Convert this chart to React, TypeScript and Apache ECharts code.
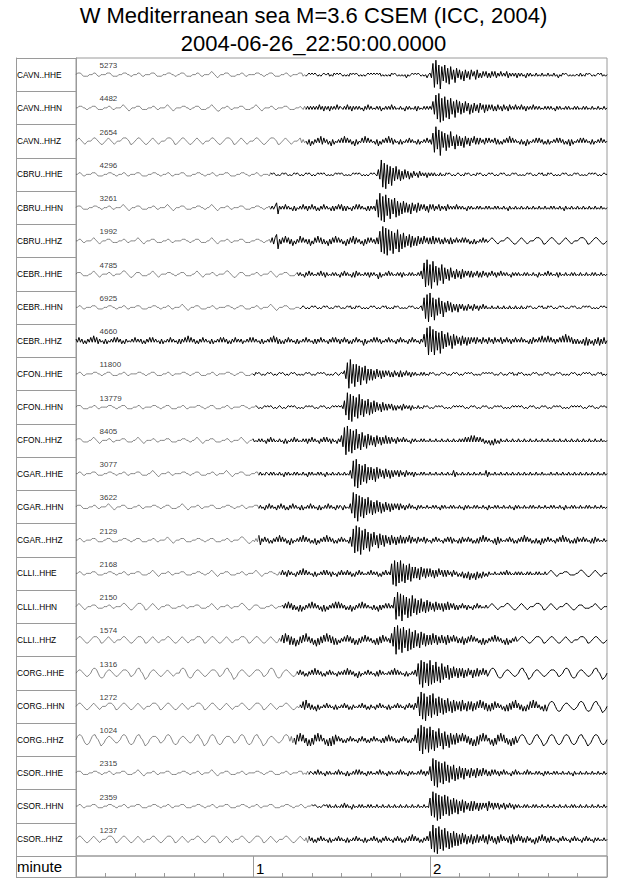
import React, { useEffect, useRef } from "react";
import * as echarts from "echarts";

// station / component of every trace, top to bottom
const stations = [
  "CAVN..HHE", "CAVN..HHN", "CAVN..HHZ",
  "CBRU..HHE", "CBRU..HHN", "CBRU..HHZ",
  "CEBR..HHE", "CEBR..HHN", "CEBR..HHZ",
  "CFON..HHE", "CFON..HHN", "CFON..HHZ",
  "CGAR..HHE", "CGAR..HHN", "CGAR..HHZ",
  "CLLI..HHE", "CLLI..HHN", "CLLI..HHZ",
  "CORG..HHE", "CORG..HHN", "CORG..HHZ",
  "CSOR..HHE", "CSOR..HHN", "CSOR..HHZ",
];

// peak counts printed over each trace
const peakCounts = [
  5273, 4482, 2654, 4296, 3261, 1992, 4785, 6925, 4660, 11800, 13779, 8405,
  3077, 3622, 2129, 2168, 2150, 1574, 1316, 1272, 1024, 2315, 2359, 1237,
];

// seconds after 22:50:00 where the dense (black) record starts
const onsetSeconds = [
  78, 78, 78, 66, 66, 66, 75, 76, 0, 60, 61, 60,
  62, 62, 62, 69.5, 70, 69.5, 75, 76, 74, 79, 80, 79,
];

// time axis: minutes
const minuteLabels = ["", "1", "2", ""];

const titleLines = ["W Mediterranean sea M=3.6 CSEM (ICC, 2004)", "2004-06-26_22:50:00.0000"];

// samples every 0.5 s: digits = up, letters a..i = down 1..9
const traceSamples = [
  `01110aaaa0 00110aa000 01110aaaa0 0011100aa0 00110aa000 01110aaaa0 0011100aa0 01110aaaa0 00110aa000 01210aba00 01110aaaa0 00110aa000
   0011100aa0 01110aaaa0 00110aa000 0111a0a010 1010a0a010 01a0a10101 0a0a0a1010 10a0a0a010 1010101a0a 0a0a1010a0 a0a0b0a010 1010a0a0b0
   1b7h9f6i5d 6e4f5c3e4b 3c2d3b2c3a 2c3b1b2a2b 1b2a2b1a2a 1a2b1a1a1b 1a1a0b1a1a 0a1a0a1a0a 1a0a1a0b0a 1010a0a0a0 0a1a0a1010 a0a0101a0a 0`,
  `0011100aa0 01110aaaa0 00110aa000 01210aba00 01110aaaa0 00110aa000 01210aba00 0011100aa0 01110aaaa0 01210abba0 00110aa000 01110aaaa0
   01210aba00 00110aa000 01110aaaa0 0010a1a1a1 a1a1a2a1b1 a1b1a1a2a1 0a1a2a1b1a 1a1a0b1a2a 1a0a1a1b0a 1a1a2a1a0a 1a0b1a1a0a 1b1a0a1a1a
   1a4d8g9i6h 7f5g6d4f5c 4d3c4b3d2c 3b2c3a2c2b 2a2b1b2a1b 2a1b2a1a2a 1a2a1b1a1a 2a1a1a0a1a 1a1a0b1a1a 0a1a1a0a1a 1a0a1a1a0a 1a0a1a0a1a 0`,
  `01210aba00 012210abba 01210aba00 0122210bba 012210abba 01210aba00 0122210bba 012210abba 01210aba00 012210abba 0122210bba 01210aba00
   012210abba 0122210bba 01210aba00 012a1a0b1c 0b1a2a3b2a 1b0c1b0a1a 2a3a2a1b0c 1b0a2a3a2a 1a0b1c0b1a 2a3a2b1a0b 1b0a1a2a1a 0b1b0a1a2a
   1b5g9e7i6d 5f4d6c3e4c 3c2d3b2c2a 3b2b2a1b2a 2a1a2b1b0b 1a2a3a2a1a 0b1b0c1b0a 1a2a2a1b0b 1b0a1a2a2a 1b0b1c1b0a 1a2a2a1a0b 1b0a1a2a1a 0`,
  `00110aa000 01110aaaa0 0011100aa0 00110aa000 01110aaaa0 0011100aa0 00110aa000 01110aaaa0 0011100aa0 00110aa000 01110aaaa0 0011100aa0
   00110aa000 0a1010a0a0 1010a0a010 10a0a01010 a0a0101010 a0a0a01010 10a0a0a010 1010a0a0a0 1010a3c9h7 i6f5g4d5c3 d2c3b2c1b2 a1b2a1a1b1
   a1a1a0a1a0 a1010a0a01 0a0a1010a0 0a1010a0a0 1010a0a010 10a0a01010 a0a0a01010 a0a0101a0a 1010a0a0a0 1010a0a010 10a0a0a010 1010a0a010 0`,
  `01110aaaa0 0011100aa0 00110aa000 01210aba00 01110aaaa0 00110aa000 01210aba00 01110aaaa0 0011100aa0 01210aba00 00110aa000 01110aaaa0
   0011100aa0 01a1a13d1a 1a2a1a0b1b 0a1a2a1b1a 2a1b0b1a2a 1a0b1b1a2a 2b1b1a0b1a 2a2a1a0b1b 1a1b5f9h7i 8e6g5d6f4e 3d4c3c2d3b 2c3b2a2b1c
   2a2b1a2b1a 1b2a1a1a2a 1a1a0b1a1a 0a1a1a0a1a 1a0a1a1a0a 1a0b1a0a1a 0a1a0a1a0a 1a0a1a0a1a 0a1a1a0a1a 0b1a0a1a0a 1a0a1a0a1a 0a1a0a1a0a 0`,
  `00110aa000 01210aba00 01110aaaa0 00110aa000 01210aba00 01110aaaa0 00110aa000 0011100aa0 01110aaaa0 01210aba00 00110aa000 01110aaaa0
   0011100aa0 01a2b24e1b 2a3a2b1c0b 1a3a2a1b1c 0b2a3a2b1b 0c1b2a3a2a 1b0c1b2a3b 2a1b0c1b2a 2a1b2b6g9h 8i7f6h5e7g 4e5d3c4d3c 2c3b2b3a2b
   2b3b2a2b1b 2a1b2b1a2a 1a2a2a1b0b 1b0a1a2a1a 01210aba00 012210abba 01210aba00 0122210bba 012210abba 01210aba00 0122210bba 012210abba 0`,
  `01110aaaa0 01210aba00 00110aa000 012210abba 01110aaaa0 01210aba00 0011100aa0 01110aaaa0 01210aba00 00110aa000 012210abba 01110aaaa0
   00110aa000 01210aba00 01110aaaa0 1a1a0b1a2a 1a0a1a2a1b 1a0a1a1a0b 1a2a1a0b1b 2a1a0a1a1b 1a1a0c1b0a 1a2a1a0a1a 1b1a0a1a1a 0a1a2c7h9g
   6i8e5g4d6f 4c3d4b2c3b 2c3b2a2b2b 1a2b1b2a1b 1a2a1b1a2a 1a1a0b1a1a 1a0a1a1a0a 1a0b1a0a1a 2a1a0a1b1a 0a1a0a1a1a 0a1a0a1a0a 1a1a0a1a0a 0`,
  `00110aa000 01110aaaa0 0011100aa0 00110aa000 01110aaaa0 0011100aa0 00110aa000 01210aba00 01110aaaa0 00110aa000 0011100aa0 01110aaaa0
   00110aa000 01210aba00 01110aaaa0 00a010a0a0 1010a0a010 10a0a01010 a0a0101a0a 1010a0a0a0 1010a0a010 1a0a0a1010 a0a0a01010 a0a01b6g8i
   9f6h5e6d4f 3c4b3c2b2c 2a2b1b2a1b 2a1b1a2a1a 0a1a0a1a0a 1a0a1a0a1a 0a1a0a1010 a0a0101a0a 1010a0a010 10a0a01010 a0a0101010 a0a0a01010 0`,
  `1a2a1b0b1a 2a3a2b1a0b 1b0a1a2a2a 1b0b1a0a1a 2a1a1b0b1a 2a2a1a0b1b 0a1a2a1a0b 1b1a2a3a2a 1b0b1a2a1a 0b1b0a1a2a 2a1b0b1a2a 1a1b0a1a2a
   2a1a0b1b0a 1a2a3a2b1b 0b1a2a1a0b 1b0a1a2a1a 0b1b1a2a1a 0b1a2a2a1b 1a2a1b0b1a 2a1a0c1b0a 1a2a2a1b0a 1a2a1a0b1a 2a1a0b1a2a 1a0b1a4d8i
   9g7i6f5h6e 4d5c3e4c3b 2c3b2c2b2a 2b2a1b2a1b 2a1b2a1a2b 1a2a1b1a2a 1a2a1a0b1b 2a1a2a3a2a 3a2a1b1a2a 3a4a3a2b1b 1b0b1c2c1b 0c1b2c1b2b 0`,
  `00110aa000 0011100aa0 01110aaaa0 00110aa000 0011100aa0 01110aaaa0 00110aa000 0011100aa0 01110aaaa0 00110aa000 0011100aa0 01110aaaa0
   0a1010a0a0 1010a0a010 10a0a01010 a0a0a01010 a0a0101010 a0a0a010a0 102c7i9f6h 6e5g4d5f3d 3d2c3b2c2b 2a2b1b2a1b 2b1a2a1b1a 1a0a1a1a0a
   1010a0a010 10a0a01010 a0a0101010 a0a0a01010 1010a0a010 a0a0101a0a 1010a0a0a0 1010a0a010 10a0a01010 a0a0a01010 a0a0101010 a0a0101a0a 0`,
  `01110aaaa0 00110aa000 0011100aa0 01110aaaa0 00110aa000 0011100aa0 01110aaaa0 00110aa000 0011100aa0 01110aaaa0 00110aa000 0011100aa0
   0010a0a010 1010a0a010 a0a0101010 a0a0a01010 10a0a01010 a0a0101010 1a4e9h8i7f 6g8e5f4d5e 3d4c3b2c3b 2b2a2b1b1a 1b2a1a1b1a 0a1a0a1010
   a0a0101010 a0a0a01010 1010a0a010 10a0a01010 a0a0101010 a0a0a01010 1010a0a010 10a0a01010 a0a0101010 a0a0a01010 1010a0a010 10a0a01010 0`,
  `01110aaaa0 01210aba00 00110aa000 01110aaaa0 01210aba00 00110aa000 01110aaaa0 0011100aa0 01210aba00 01110aaaa0 00110aa000 01210aba00
   1a0a1a1a0b 1a2a1a0a1a 0b1b0a1a2a 1a0a1a1b1a 2a1a0b1a2a 2a1b1a0b1a 3d8i9g7h6f 7e4f5d3e4c 3c2d3b2c2b 3b2b2a1b2a 1a2a1a0b1a 1a0a1a1a0a
   1a0a1a0a1a 0a1a0a1a0a 1a1a2a2a3a 3a2a2a1b0b 0c0c1b0b1a 0a1a0a1a0a 1a0a1a0a1a 0a1a0a1a0a 1a0a1a0a1a 0a1a0a1a0a 1a0a1a0a1a 0a1a0a1a0a 0`,
  `00110aa000 01110aaaa0 0011100aa0 00110aa000 01110aaaa0 01210aba00 00110aa000 0011100aa0 01110aaaa0 00110aa000 01210aba00 01110aaaa0
   0011a1a0a1 0a1a1a0a1a 0b1a1a0a1a 1a0a1a0b1a 1a0a1a1a0b 1a0a1a0a1a 0a1a0a2c8h 9i6g5e6f4d 4d3e4c3b2c 3b2c2b2a2b 2a1b2a1a1b 1a0a1a1a0a
   1a0a1a0a1a 0a1a0a2b1a 0a1a0a1a0a 1a0a1a0a2b 1a0a1a0a1a 0a1a0a1a0a 1a0a1a0a1a 0a1a0a1a0a 0a1a0a1a0a 1a0a1a0a1a 0a1a0a1a0a 1a0a1a0a1a 0`,
  `01110aaaa0 00110aa000 01210aba00 01110aaaa0 00110aa000 0011100aa0 01110aaaa0 01210aba00 00110aa000 01110aaaa0 0011100aa0 00110aa000
   0111a1a0b1 a2a1a0b1a2 a1b0b1a2a1 a0b1b0a1a2 a1a0b1b0a1 a2a1a0b1a1 0b1a0a2d9g 8i7f6g5e6d 4e3d4c3d2c 3b2c2b2a2b 2a1b1a2a1a 0b1a1a0a1a
   0a1a1a0b1a 1a0a1a1a0a 1a0b1a1a0a 1a1a0a1a0b 1a0a1a1a0a 1a0a1a0b1a 1a0a1a0a1a 1a0a1a0a1a 0a1a1a0a1a 0b1a0a1a1a 0a1a0a1a1a 0a1a0a1a0a 0`,
  `00110aa000 01110aaaa0 01110aaaa0 0011100aa0 01110aaaa0 00110aa000 01210aba00 01110aaaa0 0011100aa0 01110aaaa0 00110aa000 012210abba
   0a1a3c1a2a 1b0b1a2a3a 2a1b0c1b0a 1a2a3a2a1b 0b1c0b1a2a 3a2a1b0b1a 2a1a0b2d7h 9g8i6f7e5g 4d5c3e4c3d 3b2c3b2c2b 3b2b2a3b2a 1b2a1a2b1a
   0b1a2a1a0b 1a2a2b1a0b 1b2a1a2a1b 0b1b2a3a2a 1a0b1c2b1a 0a1a2a1b0b 1a2a3a2a1b 0b1b0c1b1a 2a1a0b1a2a 3a2a1b0b1b 2a1a2a1a0b 1b2a1a0a1a 0`,
  `00110aa000 01110aaaa0 0011100aa0 00110aa000 01110aaaa0 01210aba00 00110aa000 01110aaaa0 0011100aa0 01210aba00 01110aaaa0 00110aa000
   01210aba00 011100aa1a 2a1b2a1a0b 1a2a3a2a1a 0b1b0a1a2a 2a1b1a0b1a 2a1a2a1b0b 1a2a1a0a1a 2a1a1b0b1a 2a1a6g8h7f 8e6f5d6e4c 4c3d4b3c3b
   3b2c2b3a2b 2b2a1b2a1b 0b1c0c1d0c 0d1c0c1b0b 1a0a1a0a1a 1a2a1a0a1a 1a1a0a1a1a 0a1a1a0a1a 01210aba00 01110aaaa0 012210abba 01210aba00 0`,
  `01210aba00 01110aaaa0 00110aa000 012210abba 0122210bba 01210aba00 01110aaaa0 00110aa000 01110aaaa0 01210aba00 00110aa000 012210abba
   01110aaaa0 00110aa000 1a2a3a2b1b 0c1c0b1a2a 3a2a1b0c1c 0b1a2a3a3a 2a1b0b1c0b 1a2a3a2a1a 0b1b0c1b1a 2a2a1a6h9f 8i7e6g5f7d 5e4d5c3d4c
   3b2c3b2b2c 2b3b2a2b1b 1a2a1b1a0b 1a2a1a0a1a 01210aba00 012210abba 01210aba00 0122210bba 01210aba00 012210abba 01110aaaa0 01210aba00 0`,
  `012210abba 0122210bba 01210aba00 012210abba 0122210bba 01210aba00 012210abba 01210aba00 0122210bba 012210abba 01210aba00 0122210bba
   012210abba 01210aba1a 3b4a3c2c1d 0c2b3a4a2b 1c0d1c2b3a 4a3b2c1c0b 1a2a3a2b1c 0c1b2a3a2a 1b0c1c2b3a 2a1b4d8i9f 7h8e6g7f5e 6d4e5c4d3c
   3c4b3c2b3b 2c3b2a3a2b 1b2c1b2a3a 2a1b0c1c0b 1a2a3a2a1b 0c1c0b1a2a 012210abba 0122210bba 012210abba 01210aba00 0122210bba 012210abba 0`,
  `012210abba 023320bccb 012210abba 0122210bba 023310bdcb 012210abba 01210aba00 023320bccb 012210abba 0122210bba 023310bdcb 012210abba
   0122210bba 023320bccb 012210abba 1a2a1b0b1a 2a3a2a1b0b 1a2a1a0b1a 1a2a3a2a1b 0c1b0a1a2a 1a0b1b2a1a 0a1a2a3a2a 1a0b1b0a1a 2b6g8i7f6h
   8g5f7e4f6d 4c5d3c4b3c 3b3c2b3a2c 2b3b2a3a2b 023320bccb 012210abba 023310bdcb 012210abba 0122210bba 023320bccb 012210abba 023310bdcb 0`,
  `012210abba 01210aba00 0122210bba 012210abba 01210aba00 0122210bba 012210abba 01210aba00 0122210bba 012210abba 01210aba00 012210abba
   0122210bba 01210aba00 012210abba 0a1a3b4a2b 1b0c1b0a1a 2a1a0b1b0a 1a2a1b0b1a 0a1a2a1b0b 1a0b1a2a1a 0b1b0a1a2a 1a0b1a2a1b 2a6f9h8i6f
   7g8e5f6d5e 4d5c3d4c3b 3c4b2c3b3c 2b3a4a3b2c 1c2b3a2a1b 0c1c2b3a4a 2b1c0c1b3a 4a3a1b0c1c 023320bccb 012210abba 023320bccb 023310bdcb 0`,
  `023320bccb 023310bdcb 012210abba 023320bccb 023310bdcb 0122210bba 023320bccb 012210abba 023310bdcb 023320bccb 0122210bba 023320bccb
   023310bdcb 012210abba 02332a2b1c 3a4a3b1d0d 1c3a4a3a1c 0d1d2c3a2a 1b0b1a2a1a 0b1a2a1b0b 1a2a1a0b1b 2a3a2a1b0b 1a2a1b0b1a 3b7g9i8f7h
   8f6g5e7d4f 5d3e4c3c4b 3a4a3b2c1d 0d2c3a4a3a 1c0d1c3a4a 3b1c0d1c2b 023320bccb 023310bdcb 023320bccb 023320bccb 023310bdcb 023320bccb 0`,
  `01110aaaa0 0011100aa0 00110aa000 01110aaaa0 01210aba00 00110aa000 01110aaaa0 0011100aa0 00110aa000 01210aba00 01110aaaa0 00110aa000
   0011100aa0 01110aaaa0 00110aa000 0111a0a1a1 0a1a2a1a0b 1a1a0a1a2a 1a0b1b0a1a 2a2a1a0b1a 1a0a1a2a1a 0b1a1a0a1a 2a1a0b1a1a 0a1a2a1b1a
   4e9h8i7f6g 7e5f4d5e3d 4c3d3b2c3b 2c3b2b3a2b 1b2a2a1b1a 2a1a0b1a2a 1a0a1a2a1a 0a1a1a0b1a 1a0a1a1a0a 1a0a1a0b1a 0a1a0a1a0a 1a0a1a0a1a 0`,
  `00110aa000 01110aaaa0 0011100aa0 00110aa000 01110aaaa0 0011100aa0 00110aa000 01110aaaa0 0011100aa0 00110aa000 01110aaaa0 0011100aa0
   00110aa000 01110aaaa0 0011100aa0 00110aa000 1010a0a010 1a1a0a1a0a 1a2a1a0b1a 0a1a1a0a1a 1a0a1a0a1a 0a1a0a1a0a 1a0a1a0a1a 0a1a0a1a0a
   5f9g8i7h6f 7e6f4e5d4e 3c4d3b2c3c 3b2c2b2a2c 3a2b2a2b1a 2b1a2a1b1a 1a0a1a1a0a 1a1a0a1a0a 1a0a1a0a1a 0a1a0a1a1a 0a1a0a1a0a 1a0a1a0a1a 0`,
  `012210abba 01210aba00 0122210bba 012210abba 01210aba00 012210abba 0122210bba 01210aba00 012210abba 0122210bba 01210aba00 012210abba
   0122210bba 01210aba00 012210abba 01210a1b2a 1b0b1a2a1a 0b1b0a1a2a 1a0b1b0a1a 2a1a0b1b0a 1a2a1b0b1a 2a1a0b1a2a 1b0b1a2a3a 2a1b0b1a2a
   5f9h7i8f6g 7e5f4e5d4d 3c4b3c2b3c 2b3b2a3b2c 3a2b1c2b3a 2a1b2c3b2a 3a2b1b2a1b 0c1b2a3a2b 1b2a1a0b1a 2a1a0b1a2a 1a0b1a2a1a 0b1a1a0a1a 0`,
];

const FONT = "'Liberation Sans', Arial, Helvetica, sans-serif";
const FRAME = "#9a9a9a";
const STEP = 0.5; // seconds per sample
const AMP = 1.6; // px per level
const PLOT_H = 798;
const ROW = PLOT_H / stations.length;

const level = (ch: string) => {
  const c = ch.charCodeAt(0);
  return c >= 97 ? 96 - c : c - 48;
};

const App: React.FC = () => {
  const chartRef = useRef<HTMLDivElement>(null);

  useEffect(() => {
    document.body.style.margin = "0";
    if (!chartRef.current) return;
    const chart = echarts.init(chartRef.current, undefined, { renderer: "svg" });

    const series: any[] = [];
    traceSamples.forEach((raw, r) => {
      const mid = (r + 0.5) * ROW;
      const pts = raw
        .replace(/\s+/g, "")
        .split("")
        .map((ch, i) => [i * STEP, mid - level(ch) * AMP]);
      const on = onsetSeconds[r];
      series.push({
        type: "line",
        xAxisIndex: 0,
        yAxisIndex: 0,
        data: pts.filter((p) => p[0] <= on),
        symbol: "none",
        silent: true,
        lineStyle: { color: "#555", width: 0.7 },
      });
      series.push({
        type: "line",
        xAxisIndex: 0,
        yAxisIndex: 0,
        data: pts.filter((p) => p[0] >= on),
        symbol: "none",
        silent: true,
        lineStyle: { color: "#000", width: 1 },
      });
    });

    // peak count labels
    series.push({
      type: "scatter",
      xAxisIndex: 0,
      yAxisIndex: 0,
      symbolSize: 1,
      itemStyle: { color: "transparent" },
      silent: true,
      data: peakCounts.map((n, r) => [7.8, r * ROW + 7.5, n]),
      label: {
        show: true,
        position: "right",
        distance: 0,
        formatter: (p: any) => String(p.value[2]),
        fontSize: 8,
        color: "#000",
        fontFamily: FONT,
      },
    });

    chart.setOption({
      animation: false,
      textStyle: { fontFamily: FONT },
      graphic: titleLines.map((t, i) => ({
        type: "text",
        x: 313.5,
        y: 15 + i * 28,
        silent: true,
        style: {
          text: t,
          fontSize: 22,
          fontFamily: FONT,
          fill: "#000",
          align: "center",
          verticalAlign: "middle",
        },
      })),
      grid: [
        { left: 76, right: 33, top: 58, height: PLOT_H, show: true, borderColor: FRAME, borderWidth: 1 },
        { left: 76, right: 33, top: 856, height: 21, show: true, borderColor: FRAME, borderWidth: 1 },
      ],
      xAxis: [
        { gridIndex: 0, type: "value", min: 0, max: 180, show: false },
        {
          gridIndex: 1,
          type: "value",
          min: 0,
          max: 180,
          interval: 60,
          axisLine: { show: true, lineStyle: { color: FRAME } },
          axisTick: { show: true, inside: true, length: 21, lineStyle: { color: FRAME } },
          minorTick: { show: true, splitNumber: 6, length: 4, lineStyle: { color: FRAME } },
          splitLine: { show: false },
          axisLabel: {
            inside: true,
            margin: 1,
            align: "left",
            verticalAlign: "bottom",
            padding: [0, 0, 0, 3],
            fontSize: 15,
            color: "#000",
            formatter: (v: number) => minuteLabels[Math.round(v / 60)] ?? "",
          },
        },
      ],
      yAxis: [
        { gridIndex: 0, type: "value", min: 0, max: PLOT_H, inverse: true, show: false },
        {
          gridIndex: 0,
          type: "category",
          data: stations,
          inverse: true,
          position: "left",
          axisLine: { show: true, lineStyle: { color: FRAME } },
          axisTick: { show: true, length: 60, interval: 0, lineStyle: { color: FRAME } },
          axisLabel: { interval: 0, margin: 59, align: "left", fontSize: 8.3, color: "#000" },
          splitLine: { show: false },
        },
        {
          gridIndex: 0,
          type: "value",
          position: "left",
          offset: 60,
          min: 0,
          max: 1,
          axisLine: { show: true, lineStyle: { color: FRAME } },
          axisTick: { show: false },
          axisLabel: { show: false },
          splitLine: { show: false },
        },
        {
          gridIndex: 1,
          type: "category",
          data: ["minute"],
          position: "left",
          axisLine: { show: true, lineStyle: { color: FRAME } },
          axisTick: { show: true, length: 60, lineStyle: { color: FRAME } },
          axisLabel: { margin: 59, align: "left", fontSize: 15, color: "#000" },
          splitLine: { show: false },
        },
        {
          gridIndex: 1,
          type: "value",
          position: "left",
          offset: 60,
          min: 0,
          max: 1,
          axisLine: { show: true, lineStyle: { color: FRAME } },
          axisTick: { show: false },
          axisLabel: { show: false },
          splitLine: { show: false },
        },
      ],
      series,
    });

    return () => {
      chart.dispose();
    };
  }, []);

  return <div ref={chartRef} style={{ width: 640, height: 878 }} />;
};

export default App;
